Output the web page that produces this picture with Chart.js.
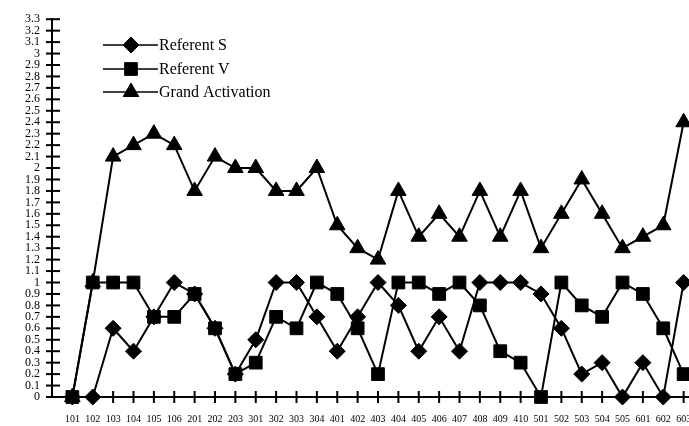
<!DOCTYPE html>
<html>
<head>
<meta charset="utf-8">
<script src="https://cdn.jsdelivr.net/npm/chart.js@4.4.0/dist/chart.umd.min.js"></script>
<style>
  html, body { margin: 0; padding: 0; background: #fff; overflow: hidden; }
  #wrap { width: 689px; height: 426px; overflow: hidden; }
</style>
</head>
<body>
<div id="wrap"><canvas id="chart" width="720" height="426"></canvas></div>
<script>
// Datos
const codes = ["101","102","103","104","105","106","201","202","203","301","302","303","304",
  "401","402","403","404","405","406","407","408","409","410","501","502","503","504","505",
  "601","602","603"];
const referentS = [0, 0, 0.6, 0.4, 0.7, 1.0, 0.9, 0.6, 0.2, 0.5, 1.0, 1.0, 0.7,
  0.4, 0.7, 1.0, 0.8, 0.4, 0.7, 0.4, 1.0, 1.0, 1.0, 0.9, 0.6, 0.2, 0.3, 0,
  0.3, 0, 1.0];
const referentV = [0, 1.0, 1.0, 1.0, 0.7, 0.7, 0.9, 0.6, 0.2, 0.3, 0.7, 0.6, 1.0,
  0.9, 0.6, 0.2, 1.0, 1.0, 0.9, 1.0, 0.8, 0.4, 0.3, 0, 1.0, 0.8, 0.7, 1.0,
  0.9, 0.6, 0.2];
const grandActivation = [0, 1.0, 2.1, 2.2, 2.3, 2.2, 1.8, 2.1, 2.0, 2.0, 1.8, 1.8, 2.0,
  1.5, 1.3, 1.2, 1.8, 1.4, 1.6, 1.4, 1.8, 1.4, 1.8, 1.3, 1.6, 1.9, 1.6, 1.3,
  1.4, 1.5, 2.4];
const yMax = 3.3;
const yStep = 0.1;

const serif = "'Liberation Serif', 'Times New Roman', serif";

function toPoints(values) {
  return values.map((v, i) => ({ x: i, y: v }));
}

function makeDataset(label, values, style, radius) {
  return {
    label: label,
    data: toPoints(values),
    borderColor: "#000",
    borderWidth: 2,
    backgroundColor: "#000",
    pointStyle: style,
    pointRadius: radius,
    pointBorderWidth: 1,
    pointBackgroundColor: "#000",
    pointBorderColor: "#000",
    tension: 0,
    clip: false
  };
}

// Marcas de los ejes que cruzan la linea
const axisTicks = {
  id: "axisTicks",
  beforeDatasetsDraw(chart) {
    const ctx = chart.ctx;
    const xs = chart.scales.x;
    const ys = chart.scales.y;
    const area = chart.chartArea;
    ctx.save();
    ctx.strokeStyle = "#000";
    ctx.lineWidth = 2;
    ys.ticks.forEach(t => {
      const y = ys.getPixelForValue(t.value);
      ctx.beginPath();
      ctx.moveTo(area.left - 6, y);
      ctx.lineTo(area.left + 8, y);
      ctx.stroke();
    });
    codes.forEach((c, i) => {
      const x = xs.getPixelForValue(i);
      ctx.beginPath();
      ctx.moveTo(x, area.bottom - 6);
      ctx.lineTo(x, area.bottom + 6);
      ctx.stroke();
    });
    ctx.restore();
  }
};

// Leyenda dibujada a mano
const customLegend = {
  id: "customLegend",
  afterDraw(chart) {
    const ctx = chart.ctx;
    const rows = [45, 69, 92];
    ctx.save();
    chart.data.datasets.forEach((ds, i) => {
      const y = rows[i];
      ctx.strokeStyle = "#000";
      ctx.lineWidth = 1.5;
      ctx.beginPath();
      ctx.moveTo(103, y);
      ctx.lineTo(158, y);
      ctx.stroke();
      ctx.fillStyle = "#000";
      ctx.lineWidth = 1;
      Chart.helpers.drawPoint(ctx, { pointStyle: ds.pointStyle, radius: ds.pointRadius, rotation: 0, borderWidth: 1 }, 131, y);
      ctx.fillStyle = "#000";
      ctx.font = "16px " + serif;
      ctx.textAlign = "left";
      ctx.textBaseline = "middle";
      ctx.fillText(ds.label, 159, y + 1);
    });
    ctx.restore();
  }
};

new Chart(document.getElementById("chart"), {
  type: "line",
  data: {
    datasets: [
      makeDataset("Referent S", referentS, "rectRot", 8),
      makeDataset("Referent V", referentV, "rect", 9),
      makeDataset("Grand Activation", grandActivation, "triangle", 9)
    ]
  },
  options: {
    responsive: false,
    animation: false,
    layout: { padding: { top: 13, right: 12, left: 0, bottom: 0 } },
    plugins: {
      legend: { display: false },
      tooltip: { enabled: false }
    },
    scales: {
      x: {
        type: "linear",
        min: -1,
        max: 31,
        afterFit: (s) => { s.height = 29; },
        grid: { drawOnChartArea: false, drawTicks: false },
        border: { display: true, color: "#000", width: 2 },
        ticks: {
          stepSize: 1,
          autoSkip: false,
          maxRotation: 0,
          padding: 16,
          color: "#000",
          font: { family: serif, size: 10 },
          callback: (v) => codes[v] !== undefined ? codes[v] : ""
        }
      },
      y: {
        min: 0,
        max: yMax,
        afterFit: (s) => { s.width = 52; },
        grid: { drawOnChartArea: false, drawTicks: false },
        border: { display: true, color: "#000", width: 2 },
        ticks: {
          stepSize: yStep,
          autoSkip: false,
          padding: 12,
          color: "#000",
          font: { family: serif, size: 12 },
          callback: (v) => String(Math.round(v * 10) / 10)
        }
      }
    }
  },
  plugins: [axisTicks, customLegend]
});
</script>
</body>
</html>
